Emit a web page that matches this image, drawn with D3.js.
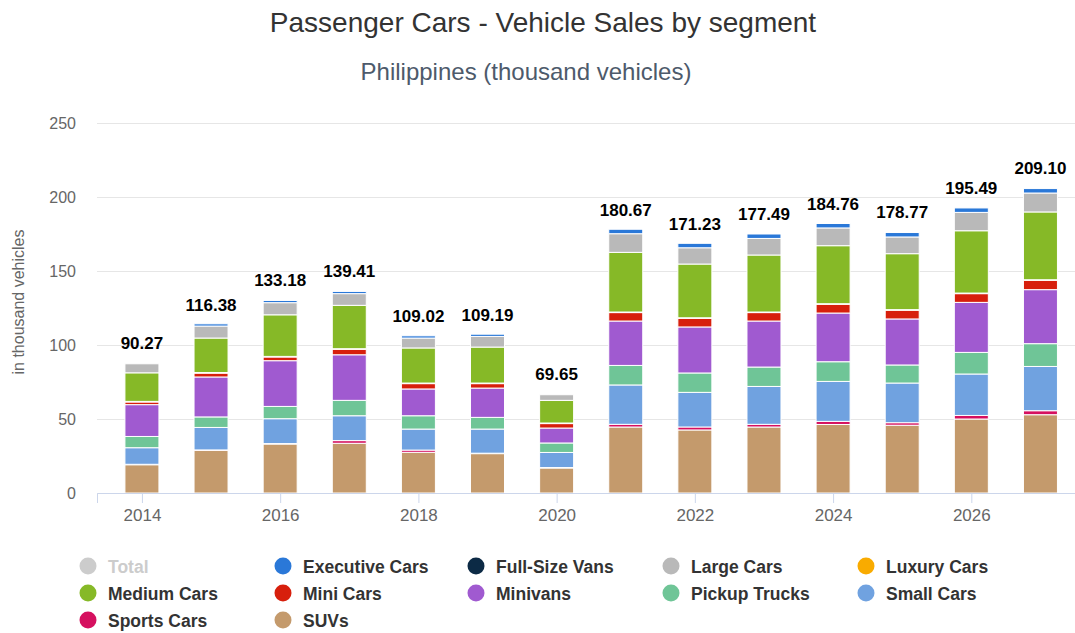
<!DOCTYPE html>
<html>
<head>
<meta charset="utf-8">
<script src="https://cdn.jsdelivr.net/npm/d3@7"></script>
<style>
  body { margin: 0; background: #fff; }
  svg { font-family: "Liberation Sans", Arial, Helvetica, sans-serif; }
</style>
</head>
<body>
<div id="chart"></div>
<script>
// years on the x axis
var years = [2014, 2015, 2016, 2017, 2018, 2019, 2020, 2021, 2022, 2023, 2024, 2025, 2026, 2027];
var totals = [90.27, 116.38, 133.18, 139.41, 109.02, 109.19, 69.65, 180.67, 171.23, 177.49, 184.76, 178.77, 195.49, 209.10];

// segments, bottom of the stack first
var suvs          = [19.1, 28.8, 33.1, 33.6, 27.5, 26.6, 16.9, 44.6, 42.6, 44.6, 46.3, 45.8, 50.0, 52.9];
var sportsCars    = [0.3, 0.3, 0.3, 1.8, 1.5, 0.3, 0.3, 1.8, 2.0, 1.8, 2.1, 1.7, 2.4, 2.7];
var smallCars     = [11.2, 15.2, 16.8, 16.8, 14.2, 16.3, 10.2, 26.6, 23.4, 25.6, 27.0, 26.8, 28.0, 29.9];
var pickupTrucks  = [7.6, 7.1, 8.3, 10.4, 9.0, 7.9, 6.4, 13.2, 13.1, 13.1, 13.3, 12.2, 14.6, 15.4];
var minivans      = [21.5, 27.0, 30.9, 30.8, 18.1, 19.8, 10.1, 30.0, 31.1, 31.1, 32.9, 31.1, 33.8, 36.5];
var miniCars      = [1.8, 2.6, 2.5, 3.7, 3.6, 3.0, 3.0, 5.7, 5.8, 5.7, 5.9, 5.9, 5.9, 6.3];
var luxuryCars    = [0.4, 0.4, 0.4, 0.4, 0.4, 0.4, 0.4, 0.4, 0.4, 0.4, 0.4, 0.4, 0.4, 0.4];
var mediumCars    = [19.3, 23.3, 28.1, 29.3, 23.7, 24.3, 15.3, 40.3, 36.3, 38.5, 39.2, 37.8, 42.1, 45.8];
var largeCars     = [6.1, 8.1, 8.2, 7.9, 6.7, 7.2, 3.8, 12.6, 11.0, 11.2, 12.0, 11.3, 12.4, 12.8];
var fullSizeVans  = [0, 0, 0, 0, 0, 0, 0, 0, 0, 0, 0, 0, 0, 0];
var executiveCars = [0, 1.5, 1.5, 1.5, 1.5, 1.5, 0, 3.0, 3.0, 3.0, 3.0, 3.0, 3.0, 3.0];

var stackNames  = ["SUVs", "Sports Cars", "Small Cars", "Pickup Trucks", "Minivans", "Mini Cars",
                   "Luxury Cars", "Medium Cars", "Large Cars", "Full-Size Vans", "Executive Cars"];
var stackValues = [suvs, sportsCars, smallCars, pickupTrucks, minivans, miniCars,
                   luxuryCars, mediumCars, largeCars, fullSizeVans, executiveCars];

var legendNames = ["Total", "Executive Cars", "Full-Size Vans", "Large Cars", "Luxury Cars",
                   "Medium Cars", "Mini Cars", "Minivans", "Pickup Trucks", "Small Cars",
                   "Sports Cars", "SUVs"];
var yTicks = [0, 50, 100, 150, 200, 250];
var xTicks = [2014, 2016, 2018, 2020, 2022, 2024, 2026];

var color = d3.scaleOrdinal()
    .domain(legendNames)
    .range(["#cccccc", "#2a78d8", "#0c2a45", "#b9b9b9", "#f9ab00",
            "#86b927", "#d71f0c", "#a05ad0", "#6fc597", "#70a2e0",
            "#d5105f", "#c49a6c"]);

var fullWidth = 1075, fullHeight = 633;
var margin = {top: 123, right: 0, bottom: 140, left: 97};

var svg = d3.select("#chart").append("svg")
    .attr("width", fullWidth)
    .attr("height", fullHeight);

var x = d3.scaleLinear()
    .domain([2013.35, 2027.5])
    .range([margin.left, fullWidth]);

var y = d3.scaleLinear()
    .domain([0, 250])
    .range([493, margin.top]);

// titles
svg.append("text")
    .attr("x", 543).attr("y", 32)
    .attr("text-anchor", "middle")
    .style("font-size", "28px")
    .style("fill", "#333")
    .text("Passenger Cars - Vehicle Sales by segment");

svg.append("text")
    .attr("x", 526).attr("y", 80)
    .attr("text-anchor", "middle")
    .style("font-size", "24px")
    .style("fill", "#4d5a6b")
    .text("Philippines (thousand vehicles)");

// y axis + grid
var yAxis = svg.append("g")
    .attr("transform", "translate(" + margin.left + ",0)")
    .call(d3.axisLeft(y).tickValues(yTicks)
        .tickSize(-(fullWidth - margin.left))
        .tickPadding(20));
yAxis.select(".domain").remove();
yAxis.selectAll(".tick line").attr("stroke", "#e6e6e6");
yAxis.selectAll(".tick text")
    .style("font-size", "16px")
    .style("fill", "#666")
    .attr("x", -21);

svg.append("text")
    .attr("transform", "translate(24," + 302 + ") rotate(-90)")
    .attr("text-anchor", "middle")
    .style("font-size", "16px")
    .style("fill", "#666")
    .text("in thousand vehicles");

// stacked bars
var rows = years.map(function(yr, i) {
    var row = {year: yr};
    stackNames.forEach(function(n, k) { row[n] = stackValues[k][i]; });
    return row;
});

var stack = d3.stack().keys(stackNames);
var layers = stack(rows);
var barWidth = 34;

svg.append("g").selectAll("g")
    .data(layers)
    .enter().append("g")
        .style("fill", function(d) { return color(d.key); })
    .selectAll("rect")
    .data(function(d) { return d; })
    .enter().append("rect")
        .attr("x", function(d) { return x(d.data.year) - barWidth / 2; })
        .attr("y", function(d) { return y(d[1]); })
        .attr("width", barWidth)
        .attr("height", function(d) { return Math.max(0, y(d[0]) - y(d[1])); })
        .attr("stroke", "#fff")
        .attr("stroke-width", 1);

// x axis
var xAxis = svg.append("g")
    .attr("transform", "translate(0,493)")
    .call(d3.axisBottom(x).tickValues(xTicks).tickFormat(d3.format("d"))
        .tickSize(10).tickPadding(6));
xAxis.select(".domain").attr("stroke", "#ccd6eb");
xAxis.selectAll(".tick line").attr("stroke", "#ccd6eb");
xAxis.selectAll(".tick text")
    .style("font-size", "17px")
    .style("fill", "#666");

// total labels
svg.append("g").selectAll("text")
    .data(years)
    .enter().append("text")
        .attr("x", function(d) { return x(d); })
        .attr("y", function(d, i) { return y(totals[i]) - 10; })
        .attr("text-anchor", "middle")
        .style("font-size", "17px")
        .style("font-weight", "bold")
        .style("fill", "#000")
        .text(function(d, i) { return totals[i].toFixed(2); });

// legend
var legendX = [88, 283, 476, 671, 866];
var legendY = [566, 593, 620];

var legend = svg.append("g").selectAll(".legend")
    .data(legendNames)
    .enter().append("g")
        .attr("class", "legend")
        .attr("transform", function(d, i) {
            return "translate(" + legendX[i % 5] + "," + legendY[Math.floor(i / 5)] + ")";
        });

legend.append("circle")
    .attr("r", 8.5)
    .style("fill", function(d) { return color(d); });

legend.append("text")
    .attr("x", 20)
    .attr("y", 6.5)
    .style("font-size", "17.5px")
    .style("font-weight", "bold")
    .style("fill", function(d) { return d === "Total" ? "#cccccc" : "#333"; })
    .text(function(d) { return d; });
</script>
</body>
</html>
